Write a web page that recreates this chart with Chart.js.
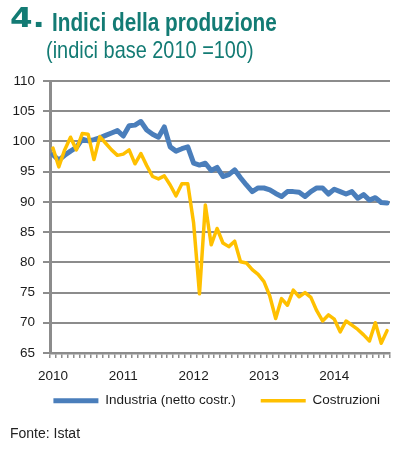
<!DOCTYPE html>
<html lang="it">
<head>
<meta charset="utf-8">
<script src="https://cdn.jsdelivr.net/npm/chart.js@4.4.1/dist/chart.umd.min.js"></script>
<style>
  body { margin: 0; background: #fff; width: 413px; height: 449px; overflow: hidden; position: relative; }
  #chart { position: absolute; left: 0; top: 0; }
  .num { position: absolute; left: 10px; top: 5px; font: bold 26px 'DejaVu Sans', sans-serif; line-height: 1; color: #137b74; transform: scaleX(1.25); transform-origin: left top; }
  .title { position: absolute; left: 52px; top: 10px; font: bold 25px 'Liberation Sans', sans-serif; line-height: 1; color: #137b74; transform: scaleX(0.83); transform-origin: left top; white-space: nowrap; }
  .sub { position: absolute; left: 46px; top: 38px; font: 24px 'Liberation Sans', sans-serif; line-height: 1; color: #137b74; transform: scaleX(0.83); transform-origin: left top; white-space: nowrap; }
  .src { position: absolute; left: 10px; top: 426px; font: 14px 'Liberation Sans', Arial, sans-serif; line-height: 1; color: #222; }
</style>
</head>
<body>
<canvas id="chart" width="413" height="449"></canvas>
<div class="num">4.</div>
<div class="title">Indici della produzione</div>
<div class="sub">(indici base 2010 =100)</div>
<div class="src">Fonte: Istat</div>
<script>
const years = ['2010', '2011', '2012', '2013', '2014'];
const months = ['gen', 'feb', 'mar', 'apr', 'mag', 'giu', 'lug', 'ago', 'set', 'ott', 'nov', 'dic'];
const nMonths = 58; // gen 2010 - ott 2014

const industria = [
  97.8, 96.9, 97.7, 98.4, 99.0, 100.4, 100.1, 100.3, 100.6, 101.0, 101.4, 101.8,
  100.9, 102.6, 102.7, 103.3, 101.9, 101.2, 100.7, 102.4, 99.1, 98.4, 98.8, 99.1,
  96.4, 96.1, 96.4, 95.2, 95.7, 94.2, 94.5, 95.3, 94.0, 92.8, 91.7, 92.3,
  92.3, 92.0, 91.4, 90.9, 91.7, 91.7, 91.6, 90.9, 91.7, 92.3, 92.3, 91.3,
  92.1, 91.7, 91.3, 91.7, 90.6, 91.2, 90.3, 90.7, 89.9, 89.8
];
const costruzioni = [
  98.9, 95.8, 98.6, 100.7, 98.6, 101.3, 101.2, 97.0, 100.8, 99.7, 98.6, 97.7,
  97.9, 98.6, 96.3, 98.0, 96.0, 94.2, 93.8, 94.3, 92.8, 91.0, 93.0, 93.0,
  86.5, 74.8, 89.5, 82.9, 85.6, 83.2, 82.6, 83.5, 80.1, 79.9, 78.8, 78.0,
  76.8, 74.4, 70.7, 74.0, 72.9, 75.4, 74.3, 75.0, 74.2, 72.0, 70.3, 71.3,
  70.6, 68.5, 70.3, 69.6, 68.9, 68.0, 67.0, 70.0, 66.6, 68.7
];
const yMin = 65, yMax = 110, yStep = 5;

const labels = years.flatMap(y => months.map(m => m + ' ' + y)).slice(0, nMonths);

const grey = '#8c8c8c';
const textFont = { family: "'Liberation Sans', Arial, sans-serif", size: 13.5 };

// default legend items, first one padded so the second sits further right
const legendLabels = (chart) => {
  const items = Chart.defaults.plugins.legend.labels.generateLabels(chart);
  items.forEach(it => { if (it.datasetIndex === 0) it.text += '    '; });
  return items;
};

const ctx = document.getElementById('chart').getContext('2d');
new Chart(ctx, {
  type: 'line',
  data: {
    labels: labels,
    datasets: [
      {
        label: 'Industria (netto costr.)',
        data: industria,
        borderColor: '#4a7ebb',
        backgroundColor: '#4a7ebb',
        borderWidth: 5,
        borderCapStyle: 'round',
        borderJoinStyle: 'round',
        pointRadius: 0,
        tension: 0,
        order: 1
      },
      {
        label: 'Costruzioni',
        data: costruzioni,
        borderColor: '#ffc000',
        backgroundColor: '#ffc000',
        borderWidth: 3.5,
        borderCapStyle: 'round',
        borderJoinStyle: 'round',
        pointRadius: 0,
        tension: 0,
        order: 0
      }
    ]
  },
  options: {
    responsive: false,
    animation: false,
    devicePixelRatio: 1,
    layout: { padding: { left: 0, right: 23, top: 81, bottom: 31.5 } },
    plugins: {
      legend: {
        position: 'bottom',
        align: 'end',
        labels: {
          usePointStyle: true,
          pointStyle: 'line',
          pointStyleWidth: 45,
          boxWidth: 45,
          padding: 10,
          color: '#1a1a1a',
          font: textFont,
          generateLabels: legendLabels,
          sort: (a, b) => a.datasetIndex - b.datasetIndex
        }
      },
      tooltip: { enabled: false }
    },
    scales: {
      x: {
        offset: true,
        afterFit: (scale) => { scale.height = 31; },
        grid: { display: true, drawOnChartArea: false, drawTicks: true, tickLength: 5, offset: true, color: grey, lineWidth: 1.5 },
        border: { color: grey, width: 2.5 },
        ticks: {
          autoSkip: false,
          maxRotation: 0,
          padding: 10,
          color: '#1a1a1a',
          font: textFont,
          callback: (val, i) => (i % 12 === 0 ? years[i / 12] : '')
        }
      },
      y: {
        min: yMin,
        max: yMax,
        afterFit: (scale) => { scale.width = 50; },
        grid: { color: grey, lineWidth: 2, tickLength: 7 },
        border: { color: grey, width: 3 },
        ticks: { stepSize: yStep, autoSkip: false, padding: 8, color: '#1a1a1a', font: textFont }
      }
    }
  }
});
</script>
</body>
</html>
